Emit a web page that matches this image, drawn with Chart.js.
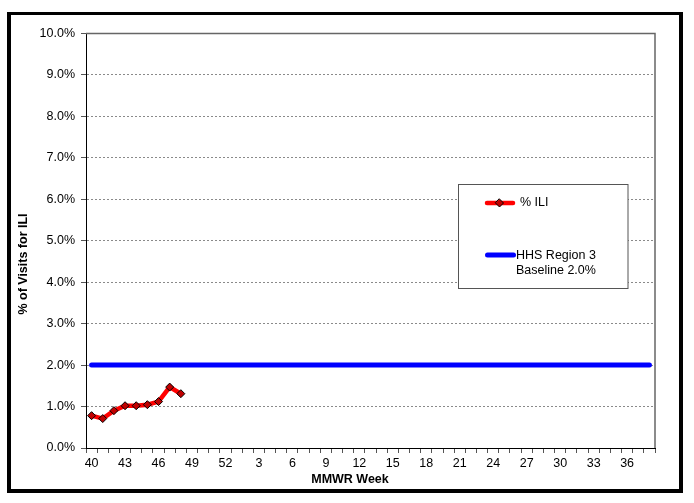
<!DOCTYPE html>
<html>
<head>
<meta charset="utf-8">
<script src="https://cdn.jsdelivr.net/npm/chart.js@4"></script>
<style>
  body { margin: 0; background: #fff; }
  #wrap { position: relative; width: 694px; height: 503px; }
  #frame { position: absolute; left: 7px; top: 12px; width: 668px; height: 474px;
           border: 4px solid #000; border-top-width: 3px; pointer-events: none; }
</style>
</head>
<body>
<div id="wrap">
  <canvas id="iliChart" width="694" height="503"></canvas>
  <div id="frame"></div>
</div>
<script>
// MMWR weeks 40..52 then 1..38
const weeks = [40, 41, 42, 43, 44, 45, 46, 47, 48, 49, 50, 51, 52,
  1, 2, 3, 4, 5, 6, 7, 8, 9, 10, 11, 12, 13, 14, 15, 16, 17, 18, 19, 20,
  21, 22, 23, 24, 25, 26, 27, 28, 29, 30, 31, 32, 33, 34, 35, 36, 37, 38];
const ili_values = [0.78, 0.71, 0.90, 1.02, 1.02, 1.045, 1.12, 1.47, 1.31];
const baseline_value = 2.0;
const y_ticks = [0, 1, 2, 3, 4, 5, 6, 7, 8, 9, 10];
const ili_label = ['% ILI'];
const baseline_label = ['HHS Region 3', 'Baseline 2.0%'];
const x_title = 'MMWR Week';
const y_title = '% of Visits for ILI';

const baseline_data = weeks.map(() => baseline_value);
const FONT = "'Liberation Sans', Arial, sans-serif";

Chart.defaults.font.family = FONT;
Chart.defaults.color = '#000';

// plot border, axis titles and the legend box
const extras = {
  id: 'extras',
  beforeDatasetsDraw(chart) {
    const {ctx, chartArea: a} = chart;
    ctx.save();
    ctx.strokeStyle = '#666';
    ctx.lineWidth = 1.5;
    ctx.beginPath();
    ctx.moveTo(a.left, a.top);
    ctx.lineTo(a.right, a.top);
    ctx.lineTo(a.right, a.bottom);
    ctx.stroke();
    ctx.restore();
  },
  afterDraw(chart) {
    const ctx = chart.ctx;
    const ds = chart.data.datasets;
    ctx.save();

    // titles
    ctx.fillStyle = '#000';
    ctx.font = 'bold 12.5px ' + FONT;
    ctx.textAlign = 'center';
    ctx.textBaseline = 'middle';
    ctx.fillText(x_title, 350, 480);
    ctx.save();
    ctx.translate(24, 264);
    ctx.rotate(-Math.PI / 2);
    ctx.fillText(y_title, 0, 0);
    ctx.restore();

    // legend
    ctx.fillStyle = '#fff';
    ctx.fillRect(458.5, 184.5, 169.5, 104);
    ctx.strokeStyle = '#555';
    ctx.lineWidth = 1;
    ctx.strokeRect(458.5, 184.5, 169.5, 104);

    ctx.lineCap = 'round';
    ctx.strokeStyle = ds[0].borderColor;
    ctx.lineWidth = ds[0].borderWidth;
    ctx.beginPath(); ctx.moveTo(487, 203); ctx.lineTo(513, 203); ctx.stroke();
    ctx.fillStyle = ds[0].pointBackgroundColor;
    ctx.strokeStyle = ds[0].pointBorderColor;
    ctx.lineWidth = 1;
    ctx.beginPath();
    ctx.moveTo(499.5, 199); ctx.lineTo(503.5, 203); ctx.lineTo(499.5, 207); ctx.lineTo(495.5, 203);
    ctx.closePath(); ctx.fill(); ctx.stroke();

    ctx.strokeStyle = ds[1].borderColor;
    ctx.lineWidth = ds[1].borderWidth;
    ctx.beginPath(); ctx.moveTo(487.5, 255); ctx.lineTo(513.5, 255); ctx.stroke();

    ctx.fillStyle = '#000';
    ctx.font = '12.5px ' + FONT;
    ctx.textAlign = 'left';
    ds[0].label.forEach((t, i) => ctx.fillText(t, 520, 203 + i * 15.5));
    ds[1].label.forEach((t, i) => ctx.fillText(t, 516, 255.5 + i * 15.5));
    ctx.restore();
  }
};

new Chart(document.getElementById('iliChart'), {
  type: 'line',
  data: {
    labels: weeks,
    datasets: [{
      label: ili_label,
      data: ili_values,
      borderColor: '#ff0000',
      borderWidth: 4.5,
      tension: 0,
      pointStyle: 'rectRot',
      pointRadius: 4,
      pointBackgroundColor: '#c00000',
      pointBorderColor: '#000',
      pointBorderWidth: 1
    }, {
      label: baseline_label,
      data: baseline_data,
      borderColor: '#0000ff',
      borderWidth: 5,
      borderCapStyle: 'round',
      pointRadius: 0
    }]
  },
  options: {
    responsive: false,
    animation: false,
    layout: { padding: { left: 0, right: 39, top: 33.5, bottom: 25 } },
    plugins: { legend: { display: false }, tooltip: { enabled: false } },
    scales: {
      x: {
        offset: true,
        afterFit: (s) => { s.height = 30; },
        grid: { offset: true, drawOnChartArea: false, tickLength: 5, color: '#555' },
        border: { color: '#000', width: 1 },
        ticks: {
          autoSkip: false, maxRotation: 0, padding: 3.5,
          font: { size: 12.5 },
          callback: function(value, index) { return index % 3 === 0 ? this.getLabelForValue(value) : ''; }
        }
      },
      y: {
        min: 0, max: 10,
        afterFit: (s) => { s.width = 86; },
        afterBuildTicks: (s) => { s.ticks = y_ticks.map(v => ({value: v})); },
        grid: { color: '#8a8a8a', tickLength: 5, tickColor: '#555' },
        border: { color: '#000', width: 1, dash: [2, 2] },
        ticks: {
          padding: 6,
          font: { size: 12.5 },
          callback: (v) => v.toFixed(1) + '%'
        }
      }
    }
  },
  plugins: [extras]
});
</script>
</body>
</html>
